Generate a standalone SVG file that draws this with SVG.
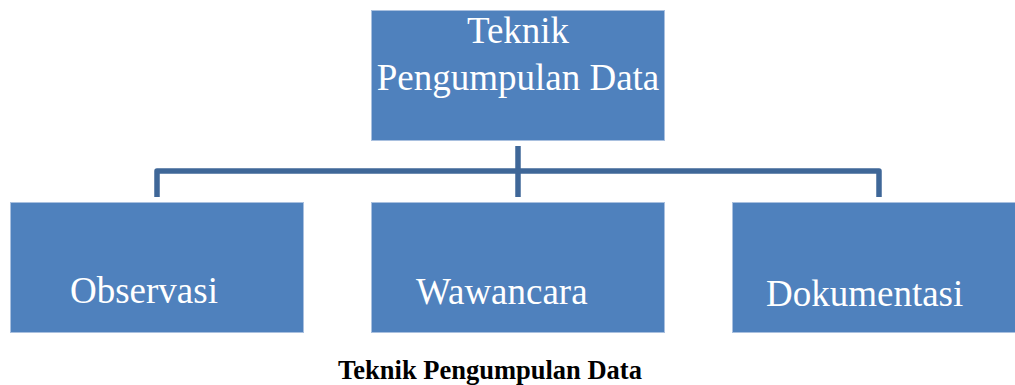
<svg xmlns="http://www.w3.org/2000/svg" width="1015" height="385" viewBox="0 0 1015 385">
<style>
.box{fill:#4F81BD;stroke:#A9C0DF;stroke-width:1}
.t{font-family:"Liberation Serif","Times New Roman",serif;font-size:37px;fill:#FFFFFF}
.c{fill:none;stroke:#3F6798;stroke-width:5.5;stroke-linejoin:round}
.cap{font-family:"Liberation Serif","Times New Roman",serif;font-size:26.5px;font-weight:bold;fill:#000000}
</style>
<rect width="1015" height="385" fill="#FFFFFF"/>
<g id="connectors">
<path class="c" d="M518 146 V197"/>
<path class="c" d="M157 197 V171 H879 V197"/>
</g>
<g id="root">
<rect class="box" x="371.5" y="10.5" width="293" height="130"/>
<text class="t" x="518" y="43" text-anchor="middle">Teknik</text>
<text class="t" x="518" y="90" text-anchor="middle">Pengumpulan Data</text>
</g>
<g id="observasi">
<rect class="box" x="10.5" y="202.5" width="293" height="130"/>
<text class="t" x="70" y="303">Observasi</text>
</g>
<g id="wawancara">
<rect class="box" x="371.5" y="202.5" width="293" height="130"/>
<text class="t" x="416" y="304">Wawancara</text>
</g>
<g id="dokumentasi">
<rect class="box" x="732.5" y="202.5" width="290" height="130"/>
<text class="t" x="766" y="306">Dokumentasi</text>
</g>
<text class="cap" x="490" y="379" text-anchor="middle">Teknik Pengumpulan Data</text>
</svg>
